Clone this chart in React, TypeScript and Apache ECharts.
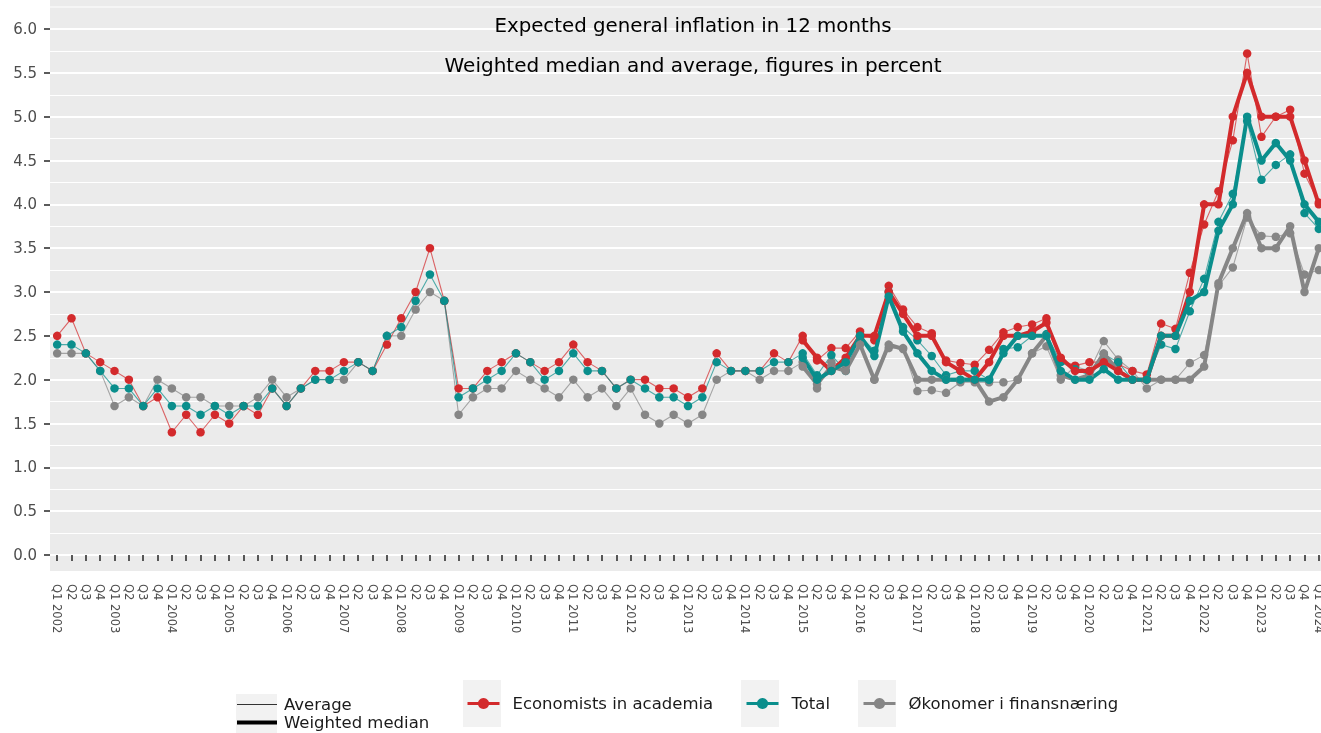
import React, { useEffect, useRef } from "react";
import * as echarts from "echarts";

const years = [2002, 2003, 2004, 2005, 2006, 2007, 2008, 2009, 2010, 2011, 2012, 2013, 2014, 2015, 2016, 2017, 2018, 2019, 2020, 2021, 2022, 2023, 2024];
const quarters = ["Q1", "Q2", "Q3", "Q4"];
const categories: string[] = [];
for (const y of years) {
  for (const q of quarters) {
    if (y === 2024 && q !== "Q1") break;
    categories.push(q === "Q1" ? `Q1 ${y}` : q);
  }
}

// Average (Q1 2002 - Q1 2024)
const academiaAvg = [
  2.5, 2.7, 2.3, 2.2, 2.1, 2.0, 1.7, 1.8, 1.4, 1.6,
  1.4, 1.6, 1.5, 1.7, 1.6, 1.9, 1.7, 1.9, 2.1, 2.1,
  2.2, 2.2, 2.1, 2.4, 2.7, 3.0, 3.5, 2.9, 1.9, 1.9,
  2.1, 2.2, 2.3, 2.2, 2.1, 2.2, 2.4, 2.2, 2.1, 1.9,
  2.0, 2.0, 1.9, 1.9, 1.8, 1.9, 2.3, 2.1, 2.1, 2.1,
  2.3, 2.2,
  2.5, 2.22, 2.36, 2.36, 2.55, 2.45, 3.07, 2.8, 2.6, 2.53,
  2.22, 2.19, 2.17, 2.34, 2.54, 2.6, 2.63, 2.7, 2.22, 2.16,
  2.2, 2.2, 2.18, 2.1, 2.06, 2.64, 2.58, 3.22, 3.77, 4.15,
  4.73, 5.72, 4.77, 5.0, 5.08, 4.35, 4.02,
];
const totalAvg = [
  2.4, 2.4, 2.3, 2.1, 1.9, 1.9, 1.7, 1.9, 1.7, 1.7,
  1.6, 1.7, 1.6, 1.7, 1.7, 1.9, 1.7, 1.9, 2.0, 2.0,
  2.1, 2.2, 2.1, 2.5, 2.6, 2.9, 3.2, 2.9, 1.8, 1.9,
  2.0, 2.1, 2.3, 2.2, 2.0, 2.1, 2.3, 2.1, 2.1, 1.9,
  2.0, 1.9, 1.8, 1.8, 1.7, 1.8, 2.2, 2.1, 2.1, 2.1,
  2.2, 2.2,
  2.3, 2.05, 2.28, 2.1, 2.5, 2.33, 3.0, 2.6, 2.45, 2.27,
  2.05, 2.1, 2.1, 2.0, 2.35, 2.37, 2.5, 2.52, 2.2, 2.12,
  2.05, 2.29, 2.2, 2.0, 2.0, 2.4, 2.35, 2.78, 3.15, 3.8,
  4.12, 4.95, 4.28, 4.45, 4.57, 3.9, 3.72,
];
const financeAvg = [
  2.3, 2.3, 2.3, 2.1, 1.7, 1.8, 1.7, 2.0, 1.9, 1.8,
  1.8, 1.7, 1.7, 1.7, 1.8, 2.0, 1.8, 1.9, 2.0, 2.0,
  2.0, 2.2, 2.1, 2.5, 2.5, 2.8, 3.0, 2.9, 1.6, 1.8,
  1.9, 1.9, 2.1, 2.0, 1.9, 1.8, 2.0, 1.8, 1.9, 1.7,
  1.9, 1.6, 1.5, 1.6, 1.5, 1.6, 2.0, 2.1, 2.1, 2.0,
  2.1, 2.1,
  2.2, 1.9, 2.2, 2.15, 2.42, 2.0, 2.36, 2.36, 1.87, 1.88,
  1.85, 1.97, 1.97, 1.97, 1.97, 2.0, 2.3, 2.38, 2.0, 2.15,
  2.1, 2.44, 2.23, 2.1, 1.9, 2.0, 2.0, 2.19, 2.28, 3.07,
  3.28, 3.85, 3.64, 3.63, 3.67, 3.2, 3.25,
];

// Weighted median (Q1 2015 - Q1 2024)
const medianStartIndex = 52;
const academiaMed = [
  2.45, 2.25, 2.1, 2.25, 2.5, 2.5, 3.0, 2.75, 2.5, 2.5,
  2.2, 2.1, 2.0, 2.2, 2.5, 2.5, 2.55, 2.65, 2.25, 2.1,
  2.1, 2.2, 2.1, 2.0, 2.0, 2.5, 2.5, 3.0, 4.0, 4.0,
  5.0, 5.5, 5.0, 5.0, 5.0, 4.5, 4.0,
];
const totalMed = [
  2.25, 2.0, 2.1, 2.2, 2.5, 2.27, 2.95, 2.55, 2.3, 2.1,
  2.0, 2.0, 2.0, 2.0, 2.3, 2.5, 2.5, 2.5, 2.1, 2.0,
  2.0, 2.12, 2.0, 2.0, 2.0, 2.5, 2.5, 2.9, 3.0, 3.7,
  4.0, 5.0, 4.5, 4.7, 4.5, 4.0, 3.8,
];
const financeMed = [
  2.15, 1.95, 2.15, 2.1, 2.4, 2.0, 2.4, 2.35, 2.0, 2.0,
  2.0, 2.0, 2.0, 1.75, 1.8, 2.0, 2.3, 2.5, 2.05, 2.0,
  2.05, 2.3, 2.1, 2.0, 2.0, 2.0, 2.0, 2.0, 2.15, 3.1,
  3.5, 3.9, 3.5, 3.5, 3.75, 3.0, 3.5,
];

const NAME_ACADEMIA = "Economists in academia";
const NAME_TOTAL = "Total";
const NAME_FINANCE = "Økonomer i finansnæring";

const RED = "#D32A2C";
const TEAL = "#0A8E8C";
const GRAY = "#868686";
const FONT = "DejaVu Sans";

const padMedian = (arr: number[]) => [...Array(medianStartIndex).fill(null), ...arr];

const avgSeries = (name: string, color: string, data: number[]) => ({
  type: "line",
  name,
  data,
  color,
  symbol: "circle",
  symbolSize: 8.5,
  showAllSymbol: true,
  lineStyle: { width: 1.1, opacity: 0.7, color },
  itemStyle: { color, opacity: 1 },
  z: 2,
  silent: true,
});

const medSeries = (name: string, color: string, data: (number | null)[]) => ({
  type: "line",
  name,
  data,
  color,
  symbol: "circle",
  symbolSize: 8.5,
  showAllSymbol: true,
  connectNulls: false,
  lineStyle: { width: 4, color },
  itemStyle: { color, opacity: 1 },
  z: 3,
  silent: true,
});

const legendText = { fontFamily: FONT, fontSize: 16.5, color: "#1A1A1A" };

const colorLegend = (name: string, left: number) => ({
  data: [name],
  left,
  top: 695,
  padding: 0,
  itemWidth: 32,
  itemHeight: 14,
  selectedMode: false,
  lineStyle: { width: 3, opacity: 1 },
  textStyle: { ...legendText, padding: [0, 0, 0, 8] },
});

export default function App() {
  const ref = useRef<HTMLDivElement>(null);
  useEffect(() => {
    if (!ref.current) return;
    const chart = echarts.init(ref.current, undefined, { renderer: "svg" });
    const option: any = {
      animation: false,
      textStyle: { fontFamily: FONT },
      title: [
        {
          text: "Expected general inflation in 12 months",
          left: 688,
          top: 10,
          textAlign: "center",
          textStyle: { fontFamily: FONT, fontSize: 19.8, fontWeight: "normal", color: "#000" },
        },
        {
          text: "Weighted median and average, figures in percent",
          left: 688,
          top: 50,
          textAlign: "center",
          textStyle: { fontFamily: FONT, fontSize: 20, fontWeight: "normal", color: "#000" },
        },
      ],
      grid: { left: 50, right: 0, top: 29, bottom: 178, show: false },
      xAxis: {
        type: "category",
        data: categories,
        boundaryGap: true,
        offset: 16,
        axisLine: { show: false },
        axisTick: { show: true, alignWithLabel: true, interval: 0, length: 6, lineStyle: { color: "#333", width: 1.6 } },
        axisLabel: { interval: 0, rotate: -90, margin: 13, fontFamily: FONT, fontSize: 11.5, color: "#4D4D4D" },
        splitLine: { show: false },
      },
      yAxis: {
        type: "value",
        min: 0,
        max: 6,
        interval: 0.5,
        axisLine: { show: false },
        axisTick: { show: true, length: 6, lineStyle: { color: "#333", width: 1.6 } },
        axisLabel: {
          margin: 13,
          fontFamily: FONT,
          fontSize: 15,
          color: "#4D4D4D",
          formatter: (v: number) => v.toFixed(1),
        },
        splitLine: { show: true, lineStyle: { color: "#FFFFFF", width: 2 } },
        minorTick: { show: false, splitNumber: 2 },
        minorSplitLine: { show: true, lineStyle: { color: "#FFFFFF", width: 1 } },
      },
      legend: [
        {
          data: [{ name: "Average", icon: "rect" }],
          left: 237,
          top: 696,
          padding: 0,
          itemWidth: 40,
          itemHeight: 1.2,
          selectedMode: false,
          textStyle: { ...legendText, padding: [0, 0, 0, 2] },
        },
        {
          data: [{ name: "Weighted median", icon: "rect" }],
          left: 237,
          top: 714,
          padding: 0,
          itemWidth: 40,
          itemHeight: 4,
          selectedMode: false,
          textStyle: { ...legendText, padding: [0, 0, 0, 2] },
        },
        colorLegend(NAME_ACADEMIA, 466),
        colorLegend(NAME_TOTAL, 745),
        colorLegend(NAME_FINANCE, 862),
      ],
      graphic: [
        { type: "rect", z: -100, shape: { x: 50, y: 0, width: 1290, height: 571 }, style: { fill: "#EBEBEB" }, silent: true },
        { type: "line", z: -50, shape: { x1: 50, y1: 7, x2: 1340, y2: 7 }, style: { stroke: "#FFFFFF", lineWidth: 1 }, silent: true },
        { type: "rect", z: -100, shape: { x: 236, y: 694, width: 41, height: 40 }, style: { fill: "#F2F2F2" }, silent: true },
        { type: "rect", z: -100, shape: { x: 463, y: 680, width: 38, height: 47 }, style: { fill: "#F2F2F2" }, silent: true },
        { type: "rect", z: -100, shape: { x: 741, y: 680, width: 38, height: 47 }, style: { fill: "#F2F2F2" }, silent: true },
        { type: "rect", z: -100, shape: { x: 858, y: 680, width: 38, height: 47 }, style: { fill: "#F2F2F2" }, silent: true },
      ],
      series: [
        { type: "line", name: "Average", data: [], color: "#333", symbol: "none", lineStyle: { width: 1 } },
        { type: "line", name: "Weighted median", data: [], color: "#000", symbol: "none", lineStyle: { width: 4 } },
        avgSeries(NAME_FINANCE, GRAY, financeAvg),
        avgSeries(NAME_ACADEMIA, RED, academiaAvg),
        avgSeries(NAME_TOTAL, TEAL, totalAvg),
        medSeries(NAME_FINANCE, GRAY, padMedian(financeMed)),
        medSeries(NAME_ACADEMIA, RED, padMedian(academiaMed)),
        medSeries(NAME_TOTAL, TEAL, padMedian(totalMed)),
      ],
    };
    chart.setOption(option);
    return () => chart.dispose();
  }, []);
  return (
    <div style={{ position: "fixed", left: 0, top: 0, width: 1321, height: 733, overflow: "hidden" }}>
      <div ref={ref} style={{ width: 1326, height: 733 }} />
    </div>
  );
}
